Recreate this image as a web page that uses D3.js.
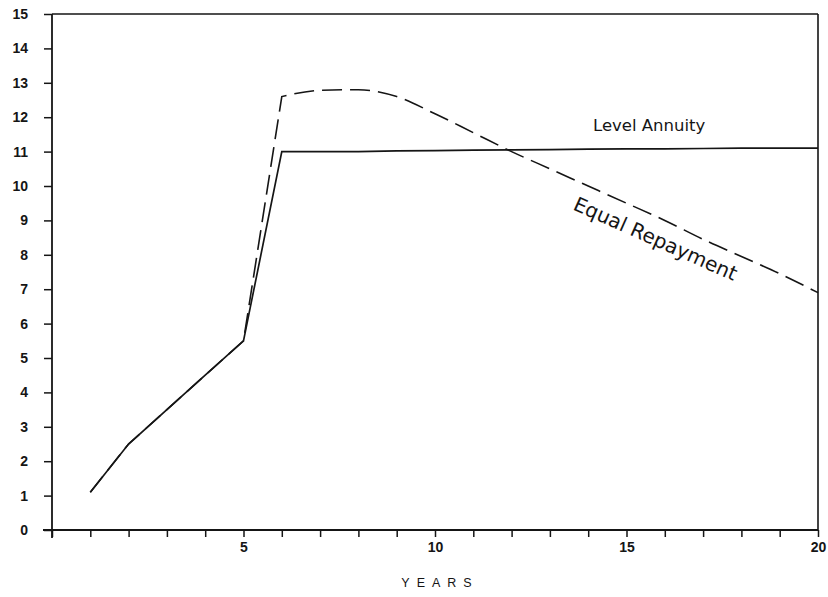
<!DOCTYPE html>
<html><head><meta charset="utf-8">
<script src="https://cdn.jsdelivr.net/npm/d3@7/dist/d3.min.js"></script>
<style>body{margin:0;background:#fff}svg{display:block}</style>
</head><body>
<script>
const years = [1,2,3,4,5,6,7,8,9,10,11,12,13,14,15,16,17,18,19,20];
const levelAnnuity = [1.1,2.5,3.5,4.5,5.5,11.0,11.0,11.0,11.02,11.03,11.04,11.05,11.06,11.07,11.08,11.08,11.09,11.1,11.1,11.1];
const equalRepayment = [1.1,2.5,3.5,4.5,5.5,12.6,12.78,12.8,12.6,12.1,11.55,11.0,10.5,10.0,9.5,9.0,8.45,7.95,7.45,6.9];
const xTicks = [5,10,15,20];
const yTicks = [0,1,2,3,4,5,6,7,8,9,10,11,12,13,14,15];
const xLabel = "YEARS";
const labels = {level:"Level Annuity", equal:"Equal Repayment"};

const W=828,H=597, L=52, R=818, T=14, B=530;
const svg=d3.select("body").append("svg").attr("width",W).attr("height",H);
const x=d3.scaleLinear().domain([0,20]).range([L,R]);
const y=d3.scaleLinear().domain([0,15]).range([B,T]);
const ink="#151515";

// frame top and right
svg.append("line").attr("x1",L).attr("x2",R).attr("y1",T).attr("y2",T).attr("stroke",ink).attr("stroke-width",1.6);
svg.append("line").attr("x1",R).attr("x2",R).attr("y1",T).attr("y2",B).attr("stroke",ink).attr("stroke-width",1.6);

// x axis
const xa=svg.append("g").attr("transform",`translate(0,${B})`)
  .call(d3.axisBottom(x).tickValues(d3.range(0,21)).tickSize(7).tickSizeOuter(0).tickFormat(d=>xTicks.includes(d)?d:""));
xa.select(".domain").attr("stroke",ink).attr("stroke-width",1.8).attr("d",`M${L-9},0H${R}`);
xa.selectAll(".tick line").attr("stroke",ink).attr("stroke-width",1.5);
xa.selectAll(".tick text").attr("font-family","Liberation Sans, Arial, sans-serif").attr("font-weight","bold").attr("font-size",14).attr("fill",ink).attr("dy","0.85em");

// y axis
const ya=svg.append("g").attr("transform",`translate(${L},0)`)
  .call(d3.axisLeft(y).tickValues(yTicks).tickSize(8).tickSizeOuter(0).tickPadding(16));
ya.select(".domain").attr("stroke",ink).attr("stroke-width",1.8).attr("d",`M0,${T}V${B+8}`);
ya.selectAll(".tick line").attr("stroke",ink).attr("stroke-width",1.5);
ya.selectAll(".tick text").attr("font-family","Liberation Sans, Arial, sans-serif").attr("font-weight","bold").attr("font-size",14).attr("fill",ink);

// lines
const line=d3.line().x(d=>x(d[0])).y(d=>y(d[1]));
const smooth=d3.line().x(d=>x(d[0])).y(d=>y(d[1])).curve(d3.curveMonotoneX);
const eqPts=years.map((yr,i)=>[yr,equalRepayment[i]]);
const laPts=years.map((yr,i)=>[yr,levelAnnuity[i]]);
const eqPath=line(eqPts.slice(0,6))+smooth(eqPts.slice(5)).replace(/^M/,"L");
svg.append("path").attr("d",eqPath).attr("fill","none").attr("stroke",ink).attr("stroke-width",1.6).attr("stroke-dasharray","20,8");
svg.append("path").attr("d",line(laPts)).attr("fill","none").attr("stroke",ink).attr("stroke-width",1.7);

// labels
svg.append("text").attr("x",593).attr("y",131).attr("font-family","DejaVu Sans, sans-serif").attr("font-size",16.5).attr("fill",ink).text(labels.level);
svg.append("text").attr("transform",`translate(572,${y(9.5)+6}) rotate(24)`).attr("font-family","DejaVu Sans, sans-serif").attr("font-size",20).attr("fill",ink).text(labels.equal);

svg.append("text").attr("x",(L+R)/2+5).attr("y",587).attr("text-anchor","middle").attr("font-family","Liberation Sans, Arial, sans-serif").attr("font-size",12.5).attr("letter-spacing","7px").attr("fill",ink).text(xLabel);
</script>
</body></html>
